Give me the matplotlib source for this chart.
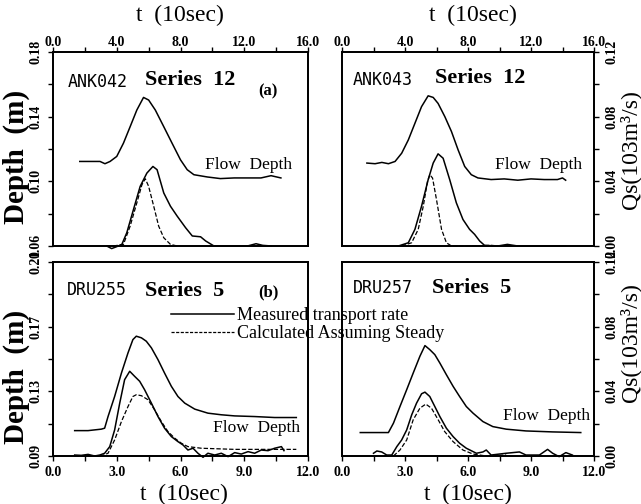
import matplotlib
matplotlib.use("Agg")
import matplotlib.pyplot as plt
from matplotlib.lines import Line2D

plt.rcParams['font.family'] = ['Liberation Serif', 'DejaVu Serif']

# ---------------- data ----------------
# Panel (a) left: ANK042
ank042_t_depth = [1.68, 2.95, 3.26, 3.58, 4.0, 4.42, 4.84, 5.26, 5.68, 6.0, 6.42, 6.95, 7.47, 8.0,
                  8.42, 8.84, 9.68, 10.5, 11.37, 12.2, 13.05, 13.68, 14.3]
ank042_depth = [0.1123, 0.1123, 0.1109, 0.1123, 0.1154, 0.1236, 0.1338, 0.1441, 0.1519, 0.1503,
                0.1441, 0.1338, 0.1236, 0.1133, 0.1072, 0.1041, 0.1027, 0.1017, 0.1021, 0.1021,
                0.1021, 0.1035, 0.1021]
ank042_t_meas = [3.37, 3.68, 4.0, 4.32, 4.63, 5.05, 5.47, 5.89, 6.27, 6.53, 6.95, 7.37, 7.79, 8.32,
                 8.74, 9.26, 9.58, 10.1, 11.37, 12.2, 12.74, 13.16, 13.7]
ank042_qs_meas = [0.0, -0.0016, -0.0004, 0.001, 0.0082, 0.0226, 0.0369, 0.0451, 0.0492, 0.0472,
                  0.0328, 0.0246, 0.0185, 0.0113, 0.0062, 0.0057, 0.0031, 0.0, 0.0, 0.0, 0.0014,
                  0.0004, 0.0]
ank042_t_calc = [3.79, 4.42, 4.84, 5.26, 5.58, 5.79, 6.0, 6.32, 6.63, 6.95, 7.37, 7.79]
ank042_qs_calc = [0.0, 0.001, 0.0123, 0.0267, 0.0379, 0.0416, 0.0369, 0.0246, 0.0123, 0.0051,
                  0.001, 0.0]

# Panel (a) right: ANK043
ank043_t_depth = [1.58, 2.1, 2.53, 2.95, 3.37, 3.79, 4.21, 4.63, 5.05, 5.47, 5.79, 6.1, 6.53, 6.95,
                  7.37, 7.79, 8.21, 8.63, 9.47, 10.3, 11.16, 12.0, 12.84, 13.68, 14.0, 14.2]
ank043_depth = [0.1113, 0.1109, 0.1117, 0.1109, 0.1123, 0.1174, 0.1256, 0.1359, 0.1462, 0.1529,
                0.1519, 0.1482, 0.14, 0.1308, 0.1195, 0.1092, 0.1041, 0.1021, 0.1011, 0.1015,
                0.1007, 0.1015, 0.1011, 0.1011, 0.1021, 0.1007]
ank043_t_meas = [3.58, 4.21, 4.63, 5.05, 5.47, 5.79, 6.1, 6.42, 6.84, 7.26, 7.68, 8.1, 8.42, 8.74,
                 9.05, 9.89, 10.5, 11.16, 13.26, 14.2]
ank043_qs_meas = [0.0, 0.002, 0.0103, 0.0246, 0.041, 0.0513, 0.057, 0.0543, 0.041, 0.0267, 0.0164,
                  0.0103, 0.0072, 0.0031, 0.0004, 0.0, 0.001, 0.0, 0.0, 0.0]
ank043_t_calc = [3.79, 4.42, 4.84, 5.16, 5.43, 5.58, 5.75, 6.0, 6.32, 6.63, 6.95, 8.0, 9.47, 10.0]
ank043_qs_calc = [0.0, 0.002, 0.0103, 0.0246, 0.04, 0.0441, 0.042, 0.0287, 0.0103, 0.002, 0.0,
                  0.0, 0.0004, 0.0]

# Panel (b) left: DRU255
dru255_t_depth = [1.02, 1.65, 2.27, 2.43, 2.59, 2.9, 3.22, 3.53, 3.76, 3.92, 4.16, 4.39, 4.63, 4.94,
                  5.25, 5.57, 5.88, 6.2, 6.67, 7.29, 7.92, 8.55, 9.49, 10.43, 11.45]
dru255_depth = [0.1057, 0.1057, 0.1066, 0.1072, 0.1144, 0.1268, 0.1413, 0.1538, 0.162, 0.1641,
                0.1631, 0.161, 0.1569, 0.1496, 0.1413, 0.1331, 0.1268, 0.1227, 0.119, 0.1165,
                0.1155, 0.1148, 0.1144, 0.1138, 0.1138]
dru255_t_meas = [1.02, 1.33, 1.65, 1.96, 2.2, 2.43, 2.67, 2.9, 3.14, 3.37, 3.61, 3.84, 4.08, 4.31,
                 4.63, 4.94, 5.25, 5.57, 5.88, 6.12, 6.35, 6.59, 6.82, 7.06, 7.29, 7.61, 7.92,
                 8.24, 8.55, 8.86, 9.18, 9.49, 9.8, 10.12, 10.43, 10.75, 10.87]
dru255_qs_meas = [0.0006, 0.0004, 0.001, 0.0, 0.0006, 0.0017, 0.0058, 0.0161, 0.0327, 0.0472,
                  0.0524, 0.0493, 0.0462, 0.041, 0.0327, 0.0244, 0.0172, 0.012, 0.0089, 0.0068,
                  0.0037, 0.0048, 0.0017, -0.0008, 0.0017, 0.0006, 0.0017, -0.0004, 0.0021,
                  0.0012, 0.0027, 0.0017, 0.0037, 0.0033, 0.0048, 0.0058, 0.0033]
dru255_t_calc = [1.02, 2.27, 2.59, 2.9, 3.22, 3.53, 3.76, 3.92, 4.16, 4.47, 4.78, 5.1, 5.41, 5.73,
                 6.04, 6.35, 6.98, 8.55, 10.12, 11.45]
dru255_qs_calc = [0.0, 0.0, 0.0017, 0.0099, 0.0213, 0.0306, 0.0368, 0.0379, 0.0373, 0.0348,
                  0.0286, 0.0213, 0.0151, 0.011, 0.0079, 0.0058, 0.0048, 0.0041, 0.0041, 0.0041]

# Panel (b) right: DRU257
dru257_t_depth = [0.87, 1.5, 2.21, 2.45, 2.76, 3.08, 3.39, 3.71, 3.95, 4.18, 4.42, 4.66, 4.97, 5.29,
                  5.6, 5.92, 6.24, 6.71, 7.18, 7.82, 8.76, 10.03, 11.37]
dru257_depth = [0.1045, 0.1045, 0.1045, 0.1103, 0.1206, 0.131, 0.1413, 0.1517, 0.1583, 0.1558,
                0.1527, 0.1475, 0.1403, 0.1331, 0.1268, 0.1206, 0.1165, 0.1113, 0.1082, 0.1066,
                0.1055, 0.1049, 0.1045]
dru257_t_meas = [1.5, 1.66, 1.89, 2.13, 2.37, 2.61, 2.84, 3.08, 3.32, 3.55, 3.79, 3.95, 4.18, 4.42,
                 4.66, 4.97, 5.29, 5.6, 5.92, 6.4, 6.71, 6.87, 7.1, 7.82, 8.45, 8.76, 9.4, 9.79,
                 10.03, 10.34, 10.66, 10.97]
dru257_qs_meas = [0.0017, 0.0031, 0.0025, 0.0006, 0.0006, 0.0058, 0.0099, 0.0161, 0.0255, 0.0327,
                  0.0385, 0.0395, 0.0368, 0.0306, 0.0244, 0.0172, 0.012, 0.0079, 0.0048, 0.0017,
                  0.0025, 0.0037, 0.0006, 0.0017, 0.0025, 0.0006, 0.0006, 0.0041, 0.0017,
                  -0.0004, 0.0021, 0.0006]
dru257_t_calc = [2.45, 2.76, 3.08, 3.39, 3.71, 3.99, 4.26, 4.58, 4.89, 5.29, 5.76, 6.24, 6.87, 7.82]
dru257_qs_calc = [0.0, 0.0037, 0.0099, 0.0224, 0.0296, 0.0321, 0.0296, 0.0224, 0.0151, 0.0089,
                  0.0037, 0.0012, 0.0, 0.0006]

# axis ticks / labels
top_xticks = [0, 4, 8, 12, 16]
top_xtick_labels = ['0.0', '4.0', '8.0', '12.0', '16.0']
top_xminor = [2, 6, 10, 14]
bot_xticks = [0, 3, 6, 9, 12]
bot_xtick_labels = ['0.0', '3.0', '6.0', '9.0', '12.0']
bot_xminor = [1.5, 4.5, 7.5, 10.5]
top_depth_ticks = [0.06, 0.10, 0.14, 0.18]
top_depth_labels = ['0.06', '0.10', '0.14', '0.18']
top_depth_minor = [0.08, 0.12, 0.16]
bot_depth_ticks = [0.09, 0.13, 0.17, 0.21]
bot_depth_labels = ['0.09', '0.13', '0.17', '0.21']
bot_depth_minor = [0.11, 0.15, 0.19]
qs_ticks = [0.0, 0.04, 0.08, 0.12]
qs_labels = ['0.00', '0.04', '0.08', '0.12']
qs_minor = [0.02, 0.06, 0.10]

W, H = 641, 504
fig = plt.figure(figsize=(W / 100, H / 100), dpi=100)


def fx(x):
    return x / W


def fy(y):
    return 1 - y / H


def make_panel(rect, top, left_side, xlim, ylim, xt, xtl, xm, yt, ytl, ym):
    ax = fig.add_axes(rect)
    ax.set_xlim(*xlim)
    ax.set_ylim(*ylim)
    tw = ax.twinx()
    tw.set_xlim(*xlim)
    tw.set_ylim(0, 0.12)
    for a in (ax, tw):
        for s in a.spines.values():
            s.set_linewidth(1.3)
    ax.set_xticks(xt)
    ax.set_xticklabels(xtl)
    ax.set_xticks(xm, minor=True)
    kw = dict(direction='out', length=3.3, width=1.0, colors='black')
    if top:
        ax.tick_params(axis='x', which='both', top=True, bottom=False, labeltop=True,
                       labelbottom=False, pad=-1.0, **kw)
    else:
        ax.tick_params(axis='x', which='both', top=False, bottom=True, labeltop=False,
                       labelbottom=True, pad=4, **kw)
    if left_side:
        ax.set_yticks(yt)
        ax.set_yticklabels(ytl)
        ax.set_yticks(ym, minor=True)
        ax.tick_params(axis='y', which='both', left=True, labelleft=True, labelrotation=90,
                       pad=4, **kw)
        tw.tick_params(axis='y', which='both', right=False, labelright=False)
        tw.set_yticks([])
    else:
        ax.tick_params(axis='y', which='both', left=False, labelleft=False)
        ax.set_yticks([])
        tw.set_yticks(qs_ticks)
        tw.set_yticklabels(qs_labels)
        tw.set_yticks(qs_minor, minor=True)
        tw.tick_params(axis='y', which='both', right=True, labelright=True, labelrotation=90,
                       pad=5, **kw)
    for lab in ax.get_xticklabels() + ax.get_yticklabels() + tw.get_yticklabels():
        lab.set_fontsize(10)
        lab.set_fontweight('bold')
    for lab in ax.get_yticklabels() + tw.get_yticklabels():
        lab.set_va('center')
    return ax, tw


lw = 1.1
dash = (3.5, 1.6)

# Top-left (a)
ax, tw = make_panel([fx(53), fy(246), fx(308) - fx(53), fy(52) - fy(246)], True, True,
                    (0, 16), (0.06, 0.18), top_xticks, top_xtick_labels, top_xminor,
                    top_depth_ticks, top_depth_labels, top_depth_minor)
ax.plot(ank042_t_depth, ank042_depth, color='black', lw=lw)
tw.plot(ank042_t_meas, ank042_qs_meas, color='black', lw=lw, clip_on=False)
tw.plot(ank042_t_calc, ank042_qs_calc, color='black', lw=0.9, dashes=dash, clip_on=False)

# Top-right
ax, tw = make_panel([fx(342), fy(246), fx(594) - fx(342), fy(52) - fy(246)], True, False,
                    (0, 16), (0.06, 0.18), top_xticks, top_xtick_labels, top_xminor,
                    top_depth_ticks, top_depth_labels, top_depth_minor)
ax.plot(ank043_t_depth, ank043_depth, color='black', lw=lw)
tw.plot(ank043_t_meas, ank043_qs_meas, color='black', lw=lw, clip_on=False)
tw.plot(ank043_t_calc, ank043_qs_calc, color='black', lw=0.9, dashes=dash, clip_on=False)

# Bottom-left (b)
ax, tw = make_panel([fx(53), fy(456), fx(308) - fx(53), fy(262) - fy(456)], False, True,
                    (0, 12), (0.09, 0.21), bot_xticks, bot_xtick_labels, bot_xminor,
                    bot_depth_ticks, bot_depth_labels, bot_depth_minor)
ax.plot(dru255_t_depth, dru255_depth, color='black', lw=lw)
tw.plot(dru255_t_meas, dru255_qs_meas, color='black', lw=lw, clip_on=False)
tw.plot(dru255_t_calc, dru255_qs_calc, color='black', lw=0.9, dashes=dash, clip_on=False)

# Bottom-right
ax, tw = make_panel([fx(342), fy(456), fx(594) - fx(342), fy(262) - fy(456)], False, False,
                    (0, 12), (0.09, 0.21), bot_xticks, bot_xtick_labels, bot_xminor,
                    bot_depth_ticks, bot_depth_labels, bot_depth_minor)
ax.plot(dru257_t_depth, dru257_depth, color='black', lw=lw)
tw.plot(dru257_t_meas, dru257_qs_meas, color='black', lw=lw, clip_on=False)
tw.plot(dru257_t_calc, dru257_qs_calc, color='black', lw=0.9, dashes=dash, clip_on=False)

# ---------------- text ----------------
id_font = ['Liberation Sans Narrow', 'DejaVu Sans Mono']


def txt(x, y, s, **kw):
    fig.text(fx(x), fy(y), s, **kw)


# axis labels
for x in (180, 473):
    txt(x, 15, 't  (10sec)', fontsize=17, ha='center', va='center')
for x in (184, 468):
    txt(x, 494, 't  (10sec)', fontsize=17, ha='center', va='center')
txt(16, 157, 'Depth  (m)', fontsize=21, fontweight='bold', rotation=90, ha='center', va='center')
txt(16, 377, 'Depth  (m)', fontsize=21, fontweight='bold', rotation=90, ha='center', va='center')
txt(630, 150, 'Qs(103m³/s)', fontsize=17, rotation=90, ha='center', va='center')
txt(630, 343, 'Qs(103m³/s)', fontsize=17, rotation=90, ha='center', va='center')

# panel titles
txt(68, 82, 'ANK042', fontsize=12, family=id_font, ha='left', va='center')
txt(145, 80, 'Series  12', fontsize=16, fontweight='bold', ha='left', va='center')
txt(258, 91, '(a)', fontsize=12, fontweight='bold', ha='left', va='center')
txt(353, 80, 'ANK043', fontsize=12, family=id_font, ha='left', va='center')
txt(435, 78, 'Series  12', fontsize=16, fontweight='bold', ha='left', va='center')
txt(67, 290, 'DRU255', fontsize=12, family=id_font, ha='left', va='center')
txt(145, 291, 'Series  5', fontsize=16, fontweight='bold', ha='left', va='center')
txt(258, 292, '(b)', fontsize=12, fontweight='bold', ha='left', va='center')
txt(353, 288, 'DRU257', fontsize=12, family=id_font, ha='left', va='center')
txt(432, 288, 'Series  5', fontsize=16, fontweight='bold', ha='left', va='center')

# flow depth labels
txt(205, 165, 'Flow  Depth', fontsize=12.5, ha='left', va='center')
txt(495, 165, 'Flow  Depth', fontsize=12.5, ha='left', va='center')
txt(213, 428, 'Flow  Depth', fontsize=12.5, ha='left', va='center')
txt(503, 416, 'Flow  Depth', fontsize=12.5, ha='left', va='center')

# legend (two single-entry legends placed across both panels)
h1 = Line2D([], [], color='black', lw=1.1)
h2 = Line2D([], [], color='black', lw=0.9, dashes=(2.5, 1.2))
for h, lab, y in ((h1, 'Measured transport rate', 316), (h2, 'Calculated Assuming Steady', 334)):
    fig.legend(handles=[h], labels=[lab], loc='center left', bbox_to_anchor=(fx(171), fy(y)),
               frameon=False, fontsize=13, handlelength=3.5, handletextpad=0.15,
               borderpad=0, borderaxespad=0)

fig.savefig('out.png', dpi=100)
